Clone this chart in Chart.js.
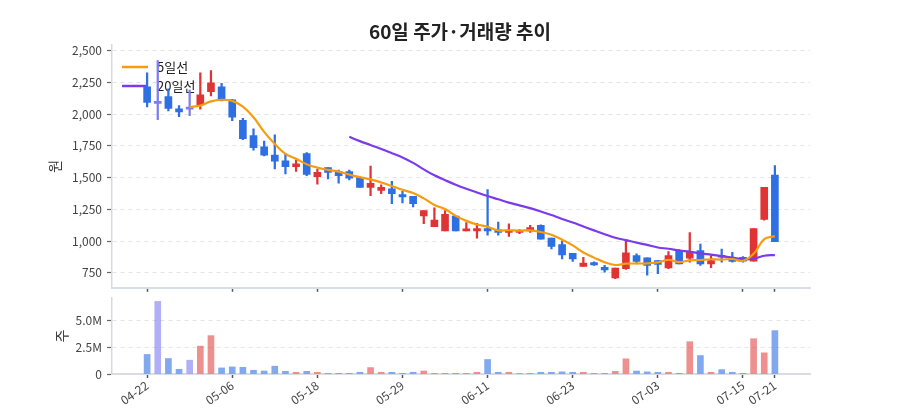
<!DOCTYPE html>
<html>
<head>
<meta charset="utf-8">
<script src="https://cdn.jsdelivr.net/npm/chart.js@4.4.1/dist/chart.umd.min.js"></script>
<style>
  html, body { margin: 0; padding: 0; background: #fff; }
  #wrap { position: relative; width: 900px; height: 420px; font-family: "Noto Sans CJK KR", "Noto Sans", sans-serif; }
  #title { position: absolute; left: 0; top: 17px; width: 920px; text-align: center; font-size: 19px; font-weight: 700; color: #222; }
  #priceBox { position: absolute; left: 0; top: 0; width: 900px; height: 300px; }
  #volBox { position: absolute; left: 0; top: 270px; width: 900px; height: 150px; }
</style>
</head>
<body>
<div id="wrap">
  <div id="priceBox"><canvas id="priceChart"></canvas></div>
  <div id="volBox"><canvas id="volChart"></canvas></div>
  <div id="title">60일 주가·거래량 추이</div>
</div>
<script>
// 60 trading days
const tickIdx = [0, 8, 16, 24, 32, 40, 48, 56, 59];
const tickText = ["04-22", "05-06", "05-18", "05-29", "06-11", "06-23", "07-03", "07-15", "07-21"];
const volTicks = [0, 2500000, 5000000];

const opens = [2217, 2085, 2139, 2043, 2040, 2074, 2178, 2217, 2113, 1952,
  1832, 1742, 1677, 1633, 1586, 1689, 1508, 1579, 1547, 1547,
  1501, 1423, 1399, 1412, 1366, 1353, 1197, 1114, 1080, 1197,
  1080, 1080, 1098, 1088, 1067, 1067, 1080, 1124, 1023, 971,
  903, 800, 829, 792, 709, 781, 885, 867, 846, 787,
  924, 864, 924, 820, 885, 872, 872, 841, 1170, 1521];
const highs = [2326, 2424, 2200, 2069, 2191, 2326, 2344, 2243, 2118, 1968,
  1885, 1789, 1837, 1689, 1640, 1698, 1568, 1579, 1560, 1560,
  1501, 1591, 1444, 1470, 1392, 1353, 1241, 1262, 1241, 1197,
  1145, 1140, 1405, 1150, 1135, 1090, 1124, 1127, 1023, 1002,
  903, 872, 835, 808, 787, 1002, 898, 867, 846, 916,
  932, 1067, 976, 885, 937, 911, 877, 1098, 1423, 1594];
const lows = [2058, 1957, 2027, 1980, 1988, 2040, 2144, 2105, 1949, 1799,
  1716, 1672, 1568, 1529, 1548, 1516, 1449, 1490, 1456, 1482,
  1423, 1357, 1373, 1295, 1301, 1269, 1137, 1114, 1080, 1080,
  1080, 1023, 1046, 1046, 1036, 1057, 1067, 1015, 937, 859,
  840, 800, 807, 755, 703, 776, 820, 730, 742, 781,
  820, 833, 808, 789, 833, 833, 833, 841, 1165, 995];
const closes = [2093, 2085, 2046, 2019, 2040, 2152, 2248, 2110, 1976, 1807,
  1737, 1677, 1630, 1586, 1609, 1526, 1542, 1542, 1516, 1495,
  1423, 1454, 1423, 1373, 1347, 1295, 1241, 1166, 1210, 1080,
  1096, 1098, 1080, 1067, 1085, 1080, 1106, 1015, 958, 890,
  859, 826, 812, 773, 787, 906, 839, 808, 815, 885,
  820, 911, 820, 846, 872, 839, 841, 1098, 1423, 995];
const volumes = [1830000, 6790000, 1450000, 440000, 1290000, 2610000, 3590000, 570000, 660000, 630000,
  350000, 280000, 730000, 250000, 160000, 250000, 160000, 60000, 60000, 60000,
  160000, 600000, 160000, 160000, 60000, 160000, 280000, 60000, 60000, 60000,
  60000, 160000, 1360000, 160000, 160000, 40000, 60000, 160000, 160000, 200000,
  160000, 160000, 60000, 60000, 250000, 1420000, 280000, 200000, 160000, 160000,
  60000, 3020000, 1730000, 160000, 410000, 160000, 60000, 3300000, 1980000, 4060000];
const ma5 = [null, null, null, null, 2057, 2068, 2101, 2114, 2105, 2059,
  1976, 1861, 1765, 1687, 1648, 1606, 1579, 1561, 1547, 1524,
  1504, 1486, 1462, 1434, 1404, 1378, 1336, 1284, 1252, 1198,
  1159, 1130, 1113, 1084, 1085, 1082, 1084, 1071, 1049, 1010,
  966, 910, 869, 832, 811, 821, 823, 823, 831, 851,
  833, 848, 850, 856, 854, 858, 844, 899, 1015, 1039];
const ma20 = [null, null, null, null, null, null, null, null, null, null,
  null, null, null, null, null, null, null, null, null, 1822,
  1788, 1757, 1726, 1693, 1659, 1616, 1565, 1518, 1480, 1444,
  1412, 1383, 1355, 1329, 1303, 1281, 1259, 1233, 1205, 1174,
  1146, 1115, 1084, 1054, 1026, 1007, 987, 969, 949, 939,
  925, 916, 903, 892, 881, 869, 856, 860, 884, 889];

const UP = "#e03434";
const DOWN = "#2f6fe4";
const FLAT = "#7d7cf0";
const UP_VOL = "rgba(224, 52, 52, 0.55)";
const DOWN_VOL = "rgba(47, 111, 228, 0.6)";
const FLAT_VOL = "rgba(125, 124, 240, 0.6)";

const FONT = '"Noto Sans CJK KR", "Noto Sans", sans-serif';
Chart.defaults.font.family = FONT;
Chart.defaults.font.size = 12;
Chart.defaults.color = "#444";

function dir(i) {
  if (closes[i] > opens[i]) return 1;
  if (closes[i] < opens[i]) return -1;
  return 0;
}
const candleColors = closes.map((c, i) => (dir(i) > 0 ? UP : dir(i) < 0 ? DOWN : FLAT));
const volColors = closes.map((c, i) => (dir(i) > 0 ? UP_VOL : dir(i) < 0 ? DOWN_VOL : FLAT_VOL));

function linePoints(arr) {
  return arr.map((v, i) => ({ x: i, y: v })).filter((p) => p.y !== null);
}

const maSeries = [
  { label: "5일선", data: ma5, color: "#f59c0f" },
  { label: "20일선", data: ma20, color: "#7b3aec" },
];

// legend drawn inside the plot, under the candles
const maLegend = {
  id: "maLegend",
  beforeDatasetsDraw(chart) {
    const ctx = chart.ctx;
    const area = chart.chartArea;
    ctx.save();
    ctx.font = "13px " + FONT;
    ctx.textBaseline = "middle";
    maSeries.forEach((s, i) => {
      const y = area.top + 22 + i * 19;
      ctx.strokeStyle = s.color;
      ctx.lineWidth = 2.5;
      ctx.beginPath();
      ctx.moveTo(area.left + 10, y);
      ctx.lineTo(area.left + 36, y);
      ctx.stroke();
      ctx.fillStyle = "#222";
      ctx.fillText(s.label, area.left + 45, y);
    });
    ctx.restore();
  },
};

function xScale(showLabels) {
  return {
    type: "linear",
    min: -3.3,
    max: 62.3,
    offset: false,
    afterBuildTicks: (s) => {
      s.ticks = tickIdx.map((v) => ({ value: v }));
    },
    afterFit: (s) => {
      s.height = showLabels ? 46 : 6;
    },
    grid: { offset: false, drawOnChartArea: false, drawTicks: true, tickLength: 4, tickColor: "#555", tickWidth: 1.5 },
    border: { color: "#d8dce3", width: 2 },
    ticks: {
      display: showLabels,
      autoSkip: false,
      minRotation: 35,
      maxRotation: 35,
      padding: 0,
      color: "#444",
      callback: (v) => {
        const k = tickIdx.indexOf(v);
        return k >= 0 ? tickText[k] : "";
      },
    },
  };
}

new Chart(document.getElementById("priceChart"), {
  type: "bar",
  data: {
    datasets: [
      ...maSeries.map((s) => ({
        type: "line",
        label: s.label,
        data: linePoints(s.data),
        borderColor: s.color,
        backgroundColor: s.color,
        borderWidth: 2.2,
        pointRadius: 0,
        tension: 0.4,
        order: 0,
      })),
      {
        label: "body",
        data: closes.map((c, i) => ({ x: i, y: [opens[i], c] })),
        backgroundColor: candleColors,
        barThickness: 7,
        minBarLength: 2,
        grouped: false,
        order: 1,
      },
      {
        label: "wick",
        data: closes.map((c, i) => ({ x: i, y: [lows[i], highs[i]] })),
        backgroundColor: candleColors,
        barThickness: 1.6,
        grouped: false,
        order: 2,
      },
    ],
  },
  options: {
    responsive: true,
    maintainAspectRatio: false,
    animation: false,
    events: [],
    layout: { padding: { left: 0, right: 90, top: 45, bottom: 3 } },
    plugins: { legend: { display: false }, tooltip: { enabled: false } },
    scales: {
      x: xScale(false),
      y: {
        type: "linear",
        min: 631,
        max: 2546,
        beginAtZero: false,
        afterFit: (s) => {
          s.width = 112;
        },
        ticks: { stepSize: 250, includeBounds: false, padding: 5, color: "#444" },
        grid: { color: "#e4e4e4", lineWidth: 1, tickLength: 5, tickColor: "#666", tickWidth: 1.2 },
        border: { color: "#d5d9e0", width: 1.5, dash: [4, 4] },
        title: { display: true, text: "원", color: "#333", font: { size: 14 }, padding: { top: 46, bottom: 0 } },
      },
    },
  },
  plugins: [maLegend],
});

new Chart(document.getElementById("volChart"), {
  type: "bar",
  data: {
    datasets: [
      {
        label: "거래량",
        data: volumes.map((v, i) => ({ x: i, y: v })),
        backgroundColor: volColors,
        barThickness: 6,
        grouped: false,
      },
    ],
  },
  options: {
    responsive: true,
    maintainAspectRatio: false,
    animation: false,
    events: [],
    layout: { padding: { left: 0, right: 90, top: 28, bottom: 0 } },
    plugins: { legend: { display: false }, tooltip: { enabled: false } },
    scales: {
      x: xScale(true),
      y: {
        type: "linear",
        min: 0,
        max: 7110000,
        afterFit: (s) => {
          s.width = 112;
        },
        afterBuildTicks: (s) => {
          s.ticks = volTicks.map((v) => ({ value: v }));
        },
        ticks: {
          padding: 5,
          color: "#444",
          callback: (v) => (v === 0 ? "0" : (v / 1e6).toFixed(1) + "M"),
        },
        grid: { color: "#e4e4e4", lineWidth: 1, tickLength: 5, tickColor: "#666", tickWidth: 1.2 },
        border: { color: "#d5d9e0", width: 1.5, dash: [4, 4] },
        title: { display: true, text: "주", color: "#333", font: { size: 14 }, padding: { top: 53, bottom: 0 } },
      },
    },
  },
});
</script>
</body>
</html>
